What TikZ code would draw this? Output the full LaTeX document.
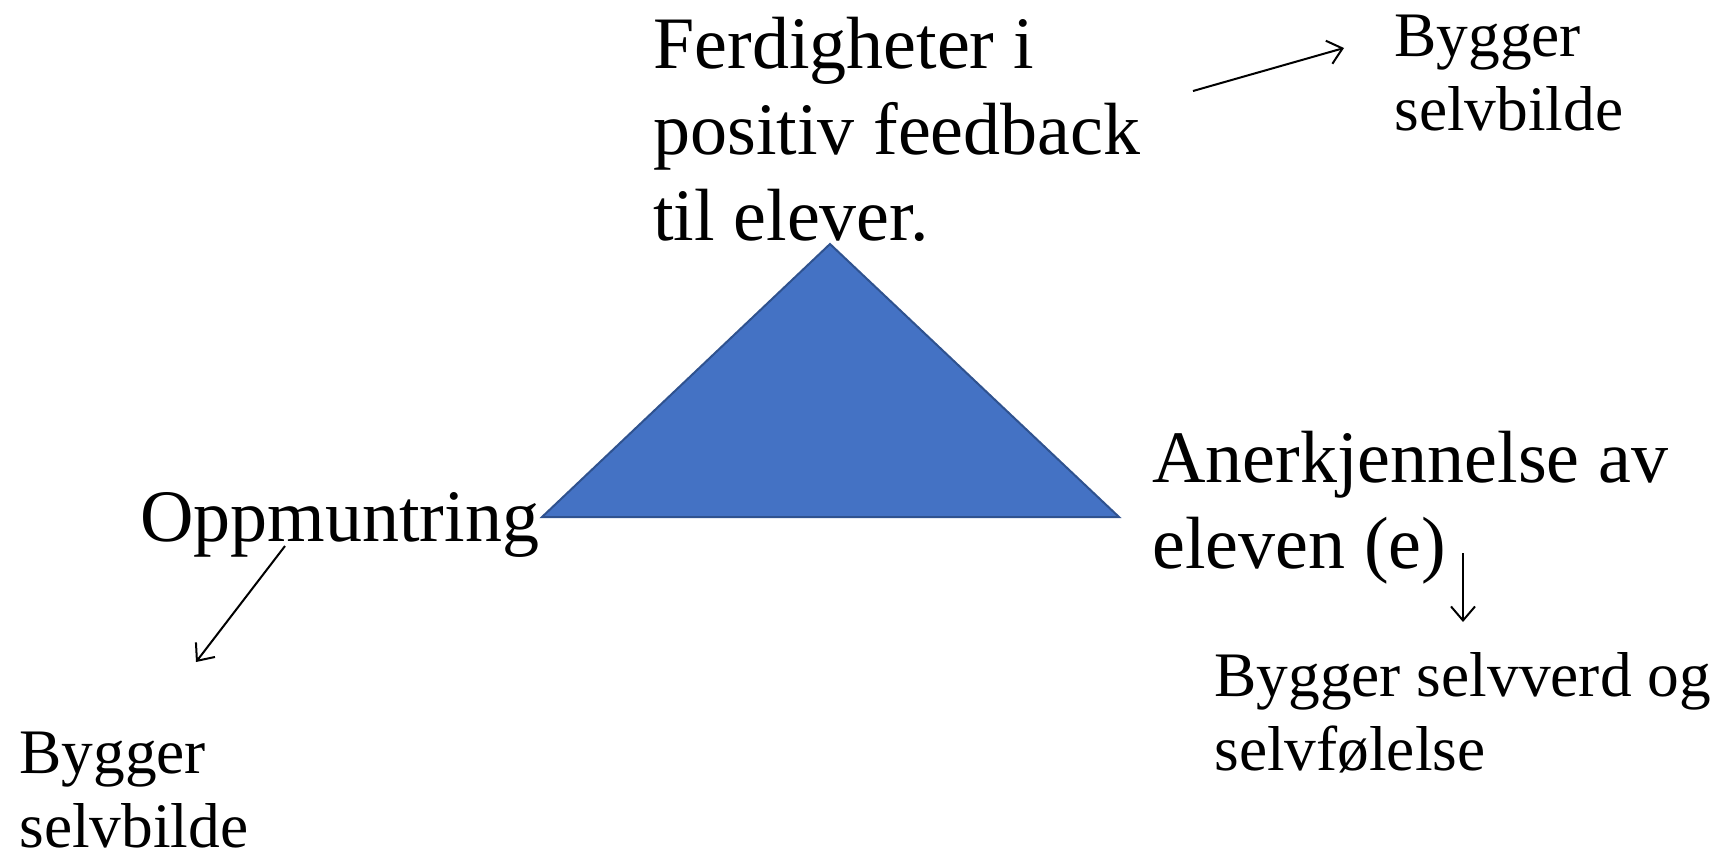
\documentclass[tikz,border=0pt]{standalone}
\usepackage{fontspec}
\setmainfont{Liberation Serif}
\usetikzlibrary{arrows.meta}
\definecolor{triblue}{HTML}{4472C4}
\definecolor{triedge}{HTML}{2F528F}
\begin{document}
\begin{tikzpicture}[x=0.5pt,y=-0.5pt,
  big/.style={inner sep=0pt,anchor=base west,align=left,font=\fontsize{37pt}{43pt}\selectfont},
  small/.style={inner sep=0pt,anchor=base west,align=left,font=\fontsize{31.7pt}{36.8pt}\selectfont},
  arr/.style={line width=1pt,-{Straight Barb[length=7pt,width=12pt]}}]
\useasboundingbox (0,0) rectangle (1724,853);
\coordinate (apex) at (830,244);
\coordinate (bl) at (542,517);
\coordinate (br) at (1119,517);
\fill[triblue,draw=triedge,line width=1pt,line join=miter] (bl) -- (apex) -- (br) -- cycle;

\node[big] (ferd) at (653,240) {Ferdigheter i\\positiv feedback\\til elever.};
\node[small] (bygtr) at (1394,130) {Bygger\\selvbilde};
\node[big] (aner) at (1152,568) {Anerkjennelse av\\eleven (e)};
\node[small] (bygsv) at (1214,770) {Bygger selvverd og\\selvfølelse};
\node[big] (opp) at (140,541) {Oppmuntring};
\node[small] (bygbl) at (19,847) {Bygger\\selvbilde};

\coordinate (t1) at (1193,91);
\coordinate (t2) at (1344,48);
\coordinate (r1) at (1463,553);
\coordinate (r2) at (1463,622);
\coordinate (l1) at (285,546);
\coordinate (l2) at (196,662);
\draw[arr] (t1) -- (t2);
\draw[arr] (r1) -- (r2);
\draw[arr] (l1) -- (l2);
\end{tikzpicture}
\end{document}
